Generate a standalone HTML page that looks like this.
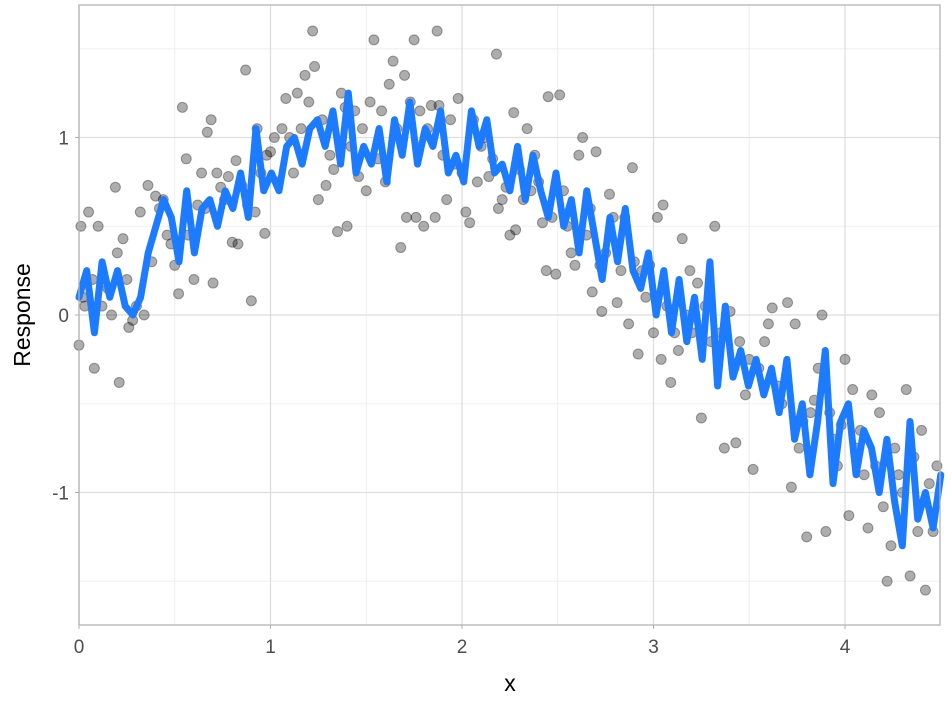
<!DOCTYPE html>
<html><head><meta charset="utf-8"><style>
body{margin:0;background:#fff;}
svg{display:block;font-family:"Liberation Sans",sans-serif;}
</style></head><body>
<svg id="chart" width="952" height="704"></svg>
<script>
const lineY=[0.1,0.25,-0.1,0.3,0.1,0.25,0.05,0.0,0.1,0.35,0.5,0.65,0.55,
0.3,0.7,0.35,0.6,0.65,0.5,0.7,0.6,0.8,0.55,1.05,0.7,
0.8,0.7,0.95,1.0,0.85,1.05,1.1,0.95,1.15,0.85,1.25,0.8,
0.95,0.85,1.05,0.75,1.1,0.9,1.2,0.85,1.05,0.95,1.15,0.8,
0.9,0.75,1.15,0.95,1.1,0.8,0.85,0.7,0.95,0.65,0.9,0.7,
0.55,0.8,0.5,0.65,0.35,0.7,0.45,0.2,0.55,0.3,0.6,0.25,
0.15,0.35,0.0,0.25,-0.1,0.2,-0.15,0.1,-0.25,0.3,-0.4,0.05,
-0.35,-0.2,-0.4,-0.25,-0.45,-0.3,-0.55,-0.25,-0.7,-0.5,-0.9,-0.6,
-0.2,-0.95,-0.6,-0.5,-0.9,-0.65,-0.75,-1.0,-0.7,-1.05,-1.3,-0.6,
-1.15,-1.0,-1.2,-0.9];
const lineXMax=4.5;
const points=[[0,-0.17],[0.01,0.5],[0.02,0.1],[0.03,0.05],[0.05,0.58],[0.07,0.2],[0.08,-0.3],[0.1,0.5],[0.12,0.05],[0.15,0.15],[0.17,0.0],[0.19,0.72],[0.2,0.35],[0.21,-0.38],[0.23,0.43],[0.25,0.2],[0.26,-0.07],[0.28,-0.03],[0.3,0.05],[0.32,0.58],[0.34,0.0],[0.36,0.73],[0.38,0.3],[0.4,0.67],[0.42,0.6],[0.44,0.65],[0.46,0.45],[0.48,0.4],[0.5,0.28],[0.52,0.12],[0.54,1.17],[0.56,0.88],[0.57,0.45],[0.6,0.2],[0.62,0.62],[0.64,0.8],[0.66,0.6],[0.67,1.03],[0.69,1.1],[0.7,0.18],[0.72,0.8],[0.74,0.72],[0.76,0.65],[0.78,0.78],[0.8,0.41],[0.82,0.87],[0.83,0.4],[0.85,0.73],[0.87,1.38],[0.88,0.62],[0.9,0.08],[0.92,0.58],[0.93,1.05],[0.95,0.8],[0.97,0.46],[0.98,0.9],[1.0,0.92],[1.02,1.0],[1.04,0.75],[1.06,1.05],[1.08,1.22],[1.1,1.0],[1.12,0.8],[1.14,1.25],[1.16,1.05],[1.18,1.35],[1.2,1.2],[1.22,1.6],[1.23,1.4],[1.25,0.65],[1.27,1.1],[1.29,0.73],[1.31,0.9],[1.33,0.82],[1.35,0.47],[1.37,1.25],[1.39,1.17],[1.4,0.5],[1.42,0.95],[1.44,1.15],[1.46,0.78],[1.48,1.05],[1.5,0.7],[1.52,1.2],[1.54,1.55],[1.56,0.88],[1.58,1.15],[1.6,0.75],[1.62,1.3],[1.64,1.43],[1.66,1.05],[1.68,0.38],[1.7,1.35],[1.71,0.55],[1.73,1.2],[1.75,1.55],[1.76,0.55],[1.78,1.15],[1.8,0.5],[1.82,1.05],[1.84,1.18],[1.86,0.55],[1.87,1.6],[1.88,1.18],[1.9,0.9],[1.92,0.65],[1.94,1.1],[1.96,0.85],[1.98,1.22],[2.0,0.8],[2.02,0.58],[2.04,0.52],[2.06,1.1],[2.08,0.75],[2.1,0.95],[2.12,1.0],[2.14,0.78],[2.16,0.88],[2.18,1.47],[2.19,0.6],[2.21,0.65],[2.23,0.72],[2.25,0.45],[2.27,1.14],[2.28,0.48],[2.3,0.82],[2.32,0.65],[2.34,1.05],[2.36,0.7],[2.38,0.9],[2.4,0.75],[2.42,0.52],[2.44,0.25],[2.45,1.23],[2.47,0.55],[2.49,0.23],[2.51,1.24],[2.53,0.7],[2.55,0.5],[2.57,0.35],[2.59,0.28],[2.61,0.9],[2.63,1.0],[2.65,0.45],[2.67,0.6],[2.68,0.13],[2.7,0.92],[2.72,0.28],[2.73,0.02],[2.75,0.35],[2.77,0.68],[2.79,0.55],[2.81,0.07],[2.83,0.25],[2.85,0.55],[2.87,-0.05],[2.89,0.83],[2.9,0.3],[2.92,-0.22],[2.94,0.25],[2.96,0.1],[2.98,0.28],[3.0,-0.1],[3.02,0.55],[3.04,-0.25],[3.05,0.62],[3.07,0.05],[3.09,-0.38],[3.11,-0.1],[3.13,-0.2],[3.15,0.43],[3.17,0.0],[3.19,0.25],[3.2,-0.1],[3.23,0.18],[3.25,-0.58],[3.27,0.05],[3.3,-0.15],[3.32,0.5],[3.35,-0.1],[3.37,-0.75],[3.4,0.02],[3.42,-0.3],[3.43,-0.72],[3.45,-0.15],[3.48,-0.45],[3.5,-0.25],[3.52,-0.87],[3.55,-0.3],[3.58,-0.15],[3.6,-0.05],[3.62,0.04],[3.65,-0.4],[3.67,-0.5],[3.7,0.07],[3.72,-0.97],[3.74,-0.05],[3.76,-0.75],[3.78,-0.6],[3.8,-1.25],[3.82,-0.55],[3.84,-0.48],[3.86,-0.3],[3.88,0.0],[3.9,-1.22],[3.92,-0.55],[3.94,-0.7],[3.96,-0.85],[3.98,-0.62],[4.0,-0.25],[4.02,-1.13],[4.04,-0.42],[4.06,-0.75],[4.08,-0.65],[4.1,-0.9],[4.12,-1.2],[4.14,-0.45],[4.16,-0.85],[4.18,-0.55],[4.2,-1.08],[4.22,-1.5],[4.24,-1.3],[4.26,-0.75],[4.28,-0.9],[4.3,-1.0],[4.32,-0.42],[4.34,-1.47],[4.36,-0.8],[4.38,-1.22],[4.4,-0.65],[4.42,-1.55],[4.44,-0.95],[4.46,-1.22],[4.48,-0.85]];
const xTicks=[0,1,2,3,4];
const yTicks=[-1,0,1];
const xLabel="x", yLabel="Response";

const NS="http://www.w3.org/2000/svg";
const svg=document.getElementById('chart');
const L=79,R=940,T=5,B=625;
const sx=v=>L+v*191.5;
const sy=v=>315-v*177.5;
function mk(tag,attrs,parent){const e=document.createElementNS(NS,tag);for(const k in attrs)e.setAttribute(k,attrs[k]);(parent||svg).appendChild(e);return e;}
const grid=mk('g',{});


[0.5,1.5,2.5,3.5].forEach(v=>mk('line',{x1:sx(v),x2:sx(v),y1:T,y2:B,stroke:'#efefef','stroke-width':1},grid));
[-1.5,-0.5,0.5,1.5].forEach(v=>mk('line',{x1:L,x2:R,y1:sy(v),y2:sy(v),stroke:'#efefef','stroke-width':1},grid));
xTicks.forEach(v=>mk('line',{x1:sx(v),x2:sx(v),y1:T,y2:B,stroke:'#dedede','stroke-width':1.3},grid));
yTicks.forEach(v=>mk('line',{x1:L,x2:R,y1:sy(v),y2:sy(v),stroke:'#dedede','stroke-width':1.3},grid));
const pts=mk('g',{});


points.forEach(p=>{const c=mk('circle',{cx:sx(p[0]),cy:sy(p[1]),r:5,fill:'rgba(0,0,0,0.32)',stroke:'rgba(0,0,0,0.35)','stroke-width':1},pts);

});
const n=lineY.length;
const d=lineY.map((y,i)=>(i?'L':'M')+sx(i*lineXMax/(n-1)).toFixed(1)+','+sy(y).toFixed(1)).join('');
const path=mk('path',{d:d,fill:'none',stroke:'#1c7bff','stroke-width':7,'stroke-linejoin':'round','stroke-linecap':'round'});


const border=mk('rect',{x:L,y:T,width:R-L,height:B-T,fill:'none',stroke:'#b3b3b3','stroke-width':1.3});


xTicks.forEach(v=>{mk('line',{x1:sx(v),x2:sx(v),y1:B,y2:B+4,stroke:'#b3b3b3'});
const t=mk('text',{x:sx(v),y:B+28,'text-anchor':'middle','font-size':19,fill:'#4d4d4d'});t.textContent=v;

});
yTicks.forEach(v=>{mk('line',{x1:L-4,x2:L,y1:sy(v),y2:sy(v),stroke:'#b3b3b3'});
const t=mk('text',{x:L-10,y:sy(v)+7,'text-anchor':'end','font-size':19,fill:'#4d4d4d'});t.textContent=v;

});
const xt=mk('text',{x:510,y:691,'text-anchor':'middle','font-size':23,fill:'#000'});xt.textContent=xLabel;


const yt=mk('text',{x:0,y:0,'text-anchor':'middle','font-size':23,fill:'#000',transform:'translate(30,315) rotate(-90)'});yt.textContent=yLabel;


</script>
</body></html>
